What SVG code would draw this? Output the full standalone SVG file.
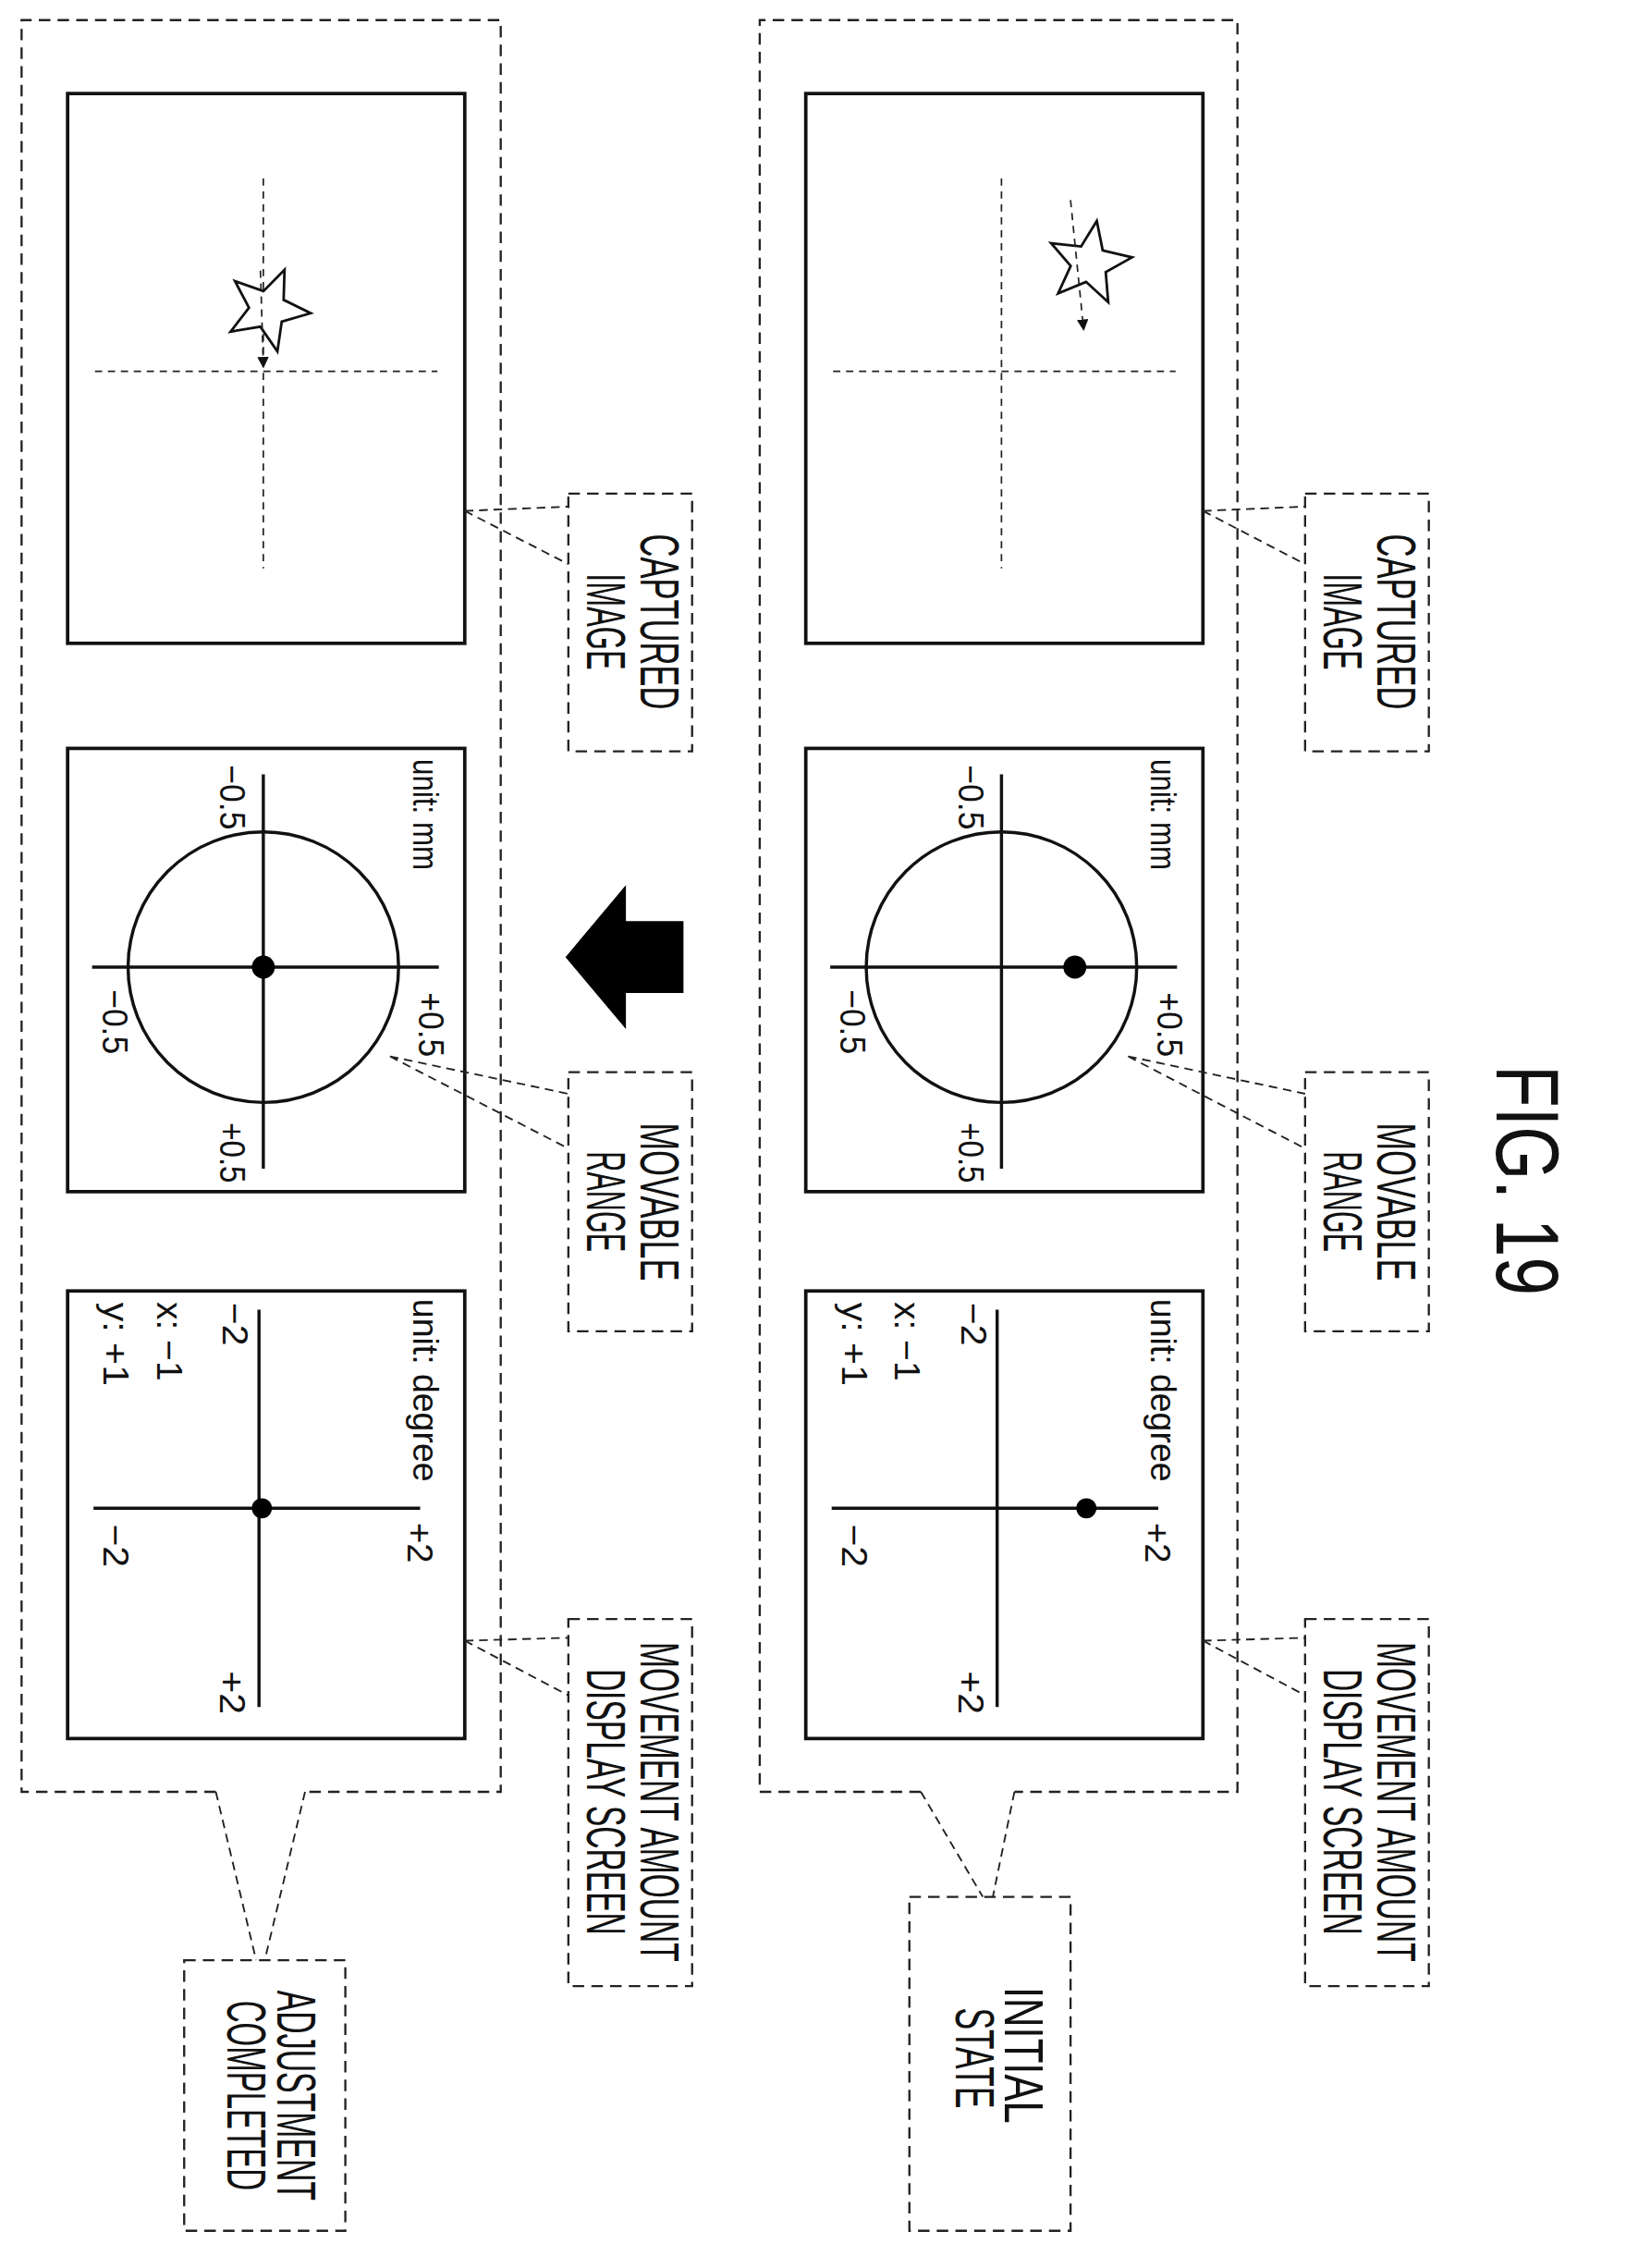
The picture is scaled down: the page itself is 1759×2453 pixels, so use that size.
<svg xmlns="http://www.w3.org/2000/svg" width="1759" height="2453" viewBox="0 0 1759 2453">
<style>
.bg{fill:#fff}
.grp{fill:none;stroke:#222;stroke-width:1.5;stroke-dasharray:8 5}
.frame{fill:#fff;stroke:#111;stroke-width:2.4}
.cross{fill:none;stroke:#222;stroke-width:1.1;stroke-dasharray:5 4}
.axis{fill:none;stroke:#111;stroke-width:2.2}
.lead{fill:none;stroke:#222;stroke-width:1.2;stroke-dasharray:6 4}
.dot{fill:#000}
.star{fill:#fff;stroke:#111;stroke-width:1.8}
text{font-family:"Liberation Sans",Arial,sans-serif;fill:#111}
.lab{font-size:38px}
.sm{font-size:25px}
.fig{font-size:62px}
</style>
<defs>
<polygon id="star" points="30,0 10.5,7.6 9.3,28.5 -4,12.4 -24.3,17.6 -13,0 -24.3,-17.6 -4,-12.4 9.3,-28.5 10.5,-7.6"/>
<marker id="ah" markerWidth="8" markerHeight="8" refX="6" refY="4" orient="auto" markerUnits="userSpaceOnUse"><path d="M0,0 L8,4 L0,8 Z" fill="#111"/></marker>
</defs>
<rect class="bg" width="1759" height="2453"/>
<g transform="scale(1.5566)">
<g id="initial-state">
<path class="grp" d="M640,1245 L528,1245 L528,14 L860,14 L860,1245 L705,1245"/>
<path class="lead" d="M640,1245 L683,1318 M705,1245 L690,1318"/>
<rect class="grp" x="632" y="1318" width="112" height="232"/>
<text class="lab" transform="translate(698,1428) rotate(90)" text-anchor="middle" textLength="95" lengthAdjust="spacingAndGlyphs">INITIAL</text>
<text class="lab" transform="translate(664,1430) rotate(90)" text-anchor="middle" textLength="70" lengthAdjust="spacingAndGlyphs">STATE</text>
</g>
<g id="captured-initial">
<rect class="frame" x="560" y="65" width="276" height="382"/>
<path class="cross" d="M579,258 L817,258 M696,124 L696,395"/>
<use href="#star" class="star" transform="translate(757,183) rotate(-8)"/>
<path class="cross" d="M744,139 L753,228" marker-end="url(#ah)"/>
</g>
<g id="movable-initial">
<rect class="frame" x="560" y="520" width="276" height="308"/>
<circle class="axis" cx="696" cy="672" r="94"/>
<path class="axis" d="M577,672 L818,672 M696,538 L696,812"/>
<circle class="dot" cx="747" cy="672" r="8"/>
<text class="sm" transform="translate(800,566) rotate(90)" text-anchor="middle" textLength="77" lengthAdjust="spacingAndGlyphs">unit: mm</text>
<text class="sm" transform="translate(666,554) rotate(90)" text-anchor="middle" textLength="45" lengthAdjust="spacingAndGlyphs">−0.5</text>
<text class="sm" transform="translate(804,712) rotate(90)" text-anchor="middle" textLength="45" lengthAdjust="spacingAndGlyphs">+0.5</text>
<text class="sm" transform="translate(584,710) rotate(90)" text-anchor="middle" textLength="45" lengthAdjust="spacingAndGlyphs">−0.5</text>
<text class="sm" transform="translate(666,801) rotate(90)" text-anchor="middle" textLength="42" lengthAdjust="spacingAndGlyphs">+0.5</text>
</g>
<g id="movement-initial">
<rect class="frame" x="560" y="897" width="276" height="311"/>
<path class="axis" d="M693,910 L693,1186 M578,1048 L805,1048"/>
<circle class="dot" cx="755" cy="1048" r="7"/>
<text class="sm" transform="translate(800,966) rotate(90)" text-anchor="middle" textLength="127" lengthAdjust="spacingAndGlyphs">unit: degree</text>
<text class="sm" transform="translate(668,920) rotate(90)" text-anchor="middle" textLength="30" lengthAdjust="spacingAndGlyphs">−2</text>
<text class="sm" transform="translate(622,932) rotate(90)" text-anchor="middle" textLength="55" lengthAdjust="spacingAndGlyphs">x: −1</text>
<text class="sm" transform="translate(585,934) rotate(90)" text-anchor="middle" textLength="58" lengthAdjust="spacingAndGlyphs">y: +1</text>
<text class="sm" transform="translate(585,1074) rotate(90)" text-anchor="middle" textLength="30" lengthAdjust="spacingAndGlyphs">−2</text>
<text class="sm" transform="translate(796,1072) rotate(90)" text-anchor="middle" textLength="28" lengthAdjust="spacingAndGlyphs">+2</text>
<text class="sm" transform="translate(666,1176) rotate(90)" text-anchor="middle" textLength="30" lengthAdjust="spacingAndGlyphs">+2</text>
</g>
<g id="label-captured-initial">
<rect class="grp" x="907" y="343" width="86" height="179"/>
<text class="lab" transform="translate(957,432) rotate(90)" text-anchor="middle" textLength="122" lengthAdjust="spacingAndGlyphs">CAPTURED</text>
<text class="lab" transform="translate(920,432) rotate(90)" text-anchor="middle" textLength="67" lengthAdjust="spacingAndGlyphs">IMAGE</text>
</g>
<g id="label-movable-initial">
<rect class="grp" x="907" y="745" width="86" height="180"/>
<text class="lab" transform="translate(957,835) rotate(90)" text-anchor="middle" textLength="110" lengthAdjust="spacingAndGlyphs">MOVABLE</text>
<text class="lab" transform="translate(920,835) rotate(90)" text-anchor="middle" textLength="70" lengthAdjust="spacingAndGlyphs">RANGE</text>
</g>
<g id="label-movement-initial">
<rect class="grp" x="907" y="1125" width="86" height="255"/>
<text class="lab" transform="translate(957,1252) rotate(90)" text-anchor="middle" textLength="222" lengthAdjust="spacingAndGlyphs">MOVEMENT AMOUNT</text>
<text class="lab" transform="translate(920,1252) rotate(90)" text-anchor="middle" textLength="185" lengthAdjust="spacingAndGlyphs">DISPLAY SCREEN</text>
</g>

<g id="adjustment-completed">
<path class="grp" d="M150,1245 L15,1245 L15,14 L348,14 L348,1245 L212,1245"/>
<path class="lead" d="M150,1245 L178,1362 M212,1245 L184,1362"/>
<rect class="grp" x="128" y="1362" width="112" height="188"/>
<text class="lab" transform="translate(193,1456) rotate(90)" text-anchor="middle" textLength="146" lengthAdjust="spacingAndGlyphs">ADJUSTMENT</text>
<text class="lab" transform="translate(158,1456) rotate(90)" text-anchor="middle" textLength="132" lengthAdjust="spacingAndGlyphs">COMPLETED</text>
</g>
<g id="captured-adjusted">
<rect class="frame" x="47" y="65" width="276" height="382"/>
<path class="cross" d="M66,258 L304,258 M183,124 L183,395"/>
<use href="#star" class="star" transform="translate(186,215) rotate(5)"/>
<path class="cross" d="M181,188 L183,254" marker-end="url(#ah)"/>
</g>
<g id="movable-adjusted">
<rect class="frame" x="47" y="520" width="276" height="308"/>
<circle class="axis" cx="183" cy="672" r="94"/>
<path class="axis" d="M64,672 L305,672 M183,538 L183,812"/>
<circle class="dot" cx="183" cy="672" r="8"/>
<text class="sm" transform="translate(287,566) rotate(90)" text-anchor="middle" textLength="77" lengthAdjust="spacingAndGlyphs">unit: mm</text>
<text class="sm" transform="translate(153,554) rotate(90)" text-anchor="middle" textLength="45" lengthAdjust="spacingAndGlyphs">−0.5</text>
<text class="sm" transform="translate(291,712) rotate(90)" text-anchor="middle" textLength="45" lengthAdjust="spacingAndGlyphs">+0.5</text>
<text class="sm" transform="translate(71,710) rotate(90)" text-anchor="middle" textLength="45" lengthAdjust="spacingAndGlyphs">−0.5</text>
<text class="sm" transform="translate(153,801) rotate(90)" text-anchor="middle" textLength="42" lengthAdjust="spacingAndGlyphs">+0.5</text>
</g>
<g id="movement-adjusted">
<rect class="frame" x="47" y="897" width="276" height="311"/>
<path class="axis" d="M180,910 L180,1186 M65,1048 L292,1048"/>
<circle class="dot" cx="182" cy="1048" r="7"/>
<text class="sm" transform="translate(287,966) rotate(90)" text-anchor="middle" textLength="127" lengthAdjust="spacingAndGlyphs">unit: degree</text>
<text class="sm" transform="translate(155,920) rotate(90)" text-anchor="middle" textLength="30" lengthAdjust="spacingAndGlyphs">−2</text>
<text class="sm" transform="translate(109,932) rotate(90)" text-anchor="middle" textLength="55" lengthAdjust="spacingAndGlyphs">x: −1</text>
<text class="sm" transform="translate(72,934) rotate(90)" text-anchor="middle" textLength="58" lengthAdjust="spacingAndGlyphs">y: +1</text>
<text class="sm" transform="translate(72,1074) rotate(90)" text-anchor="middle" textLength="30" lengthAdjust="spacingAndGlyphs">−2</text>
<text class="sm" transform="translate(283,1072) rotate(90)" text-anchor="middle" textLength="28" lengthAdjust="spacingAndGlyphs">+2</text>
<text class="sm" transform="translate(153,1176) rotate(90)" text-anchor="middle" textLength="30" lengthAdjust="spacingAndGlyphs">+2</text>
</g>
<g id="label-captured-adjusted">
<rect class="grp" x="395" y="343" width="86" height="179"/>
<text class="lab" transform="translate(445,432) rotate(90)" text-anchor="middle" textLength="122" lengthAdjust="spacingAndGlyphs">CAPTURED</text>
<text class="lab" transform="translate(408,432) rotate(90)" text-anchor="middle" textLength="67" lengthAdjust="spacingAndGlyphs">IMAGE</text>
</g>
<g id="label-movable-adjusted">
<rect class="grp" x="395" y="745" width="86" height="180"/>
<text class="lab" transform="translate(445,835) rotate(90)" text-anchor="middle" textLength="110" lengthAdjust="spacingAndGlyphs">MOVABLE</text>
<text class="lab" transform="translate(408,835) rotate(90)" text-anchor="middle" textLength="70" lengthAdjust="spacingAndGlyphs">RANGE</text>
</g>
<g id="label-movement-adjusted">
<rect class="grp" x="395" y="1125" width="86" height="255"/>
<text class="lab" transform="translate(445,1252) rotate(90)" text-anchor="middle" textLength="222" lengthAdjust="spacingAndGlyphs">MOVEMENT AMOUNT</text>
<text class="lab" transform="translate(408,1252) rotate(90)" text-anchor="middle" textLength="185" lengthAdjust="spacingAndGlyphs">DISPLAY SCREEN</text>
</g>

<g id="connectors">
<path class="lead" d="M836,355 L907,352 M836,355 L907,392"/>
<path class="lead" d="M784,734 L907,760 M784,734 L907,798"/>
<path class="lead" d="M836,1140 L907,1138 M836,1140 L907,1178"/>
<path class="lead" d="M323,355 L395,352 M323,355 L395,392"/>
<path class="lead" d="M271,734 L395,760 M271,734 L395,798"/>
<path class="lead" d="M323,1140 L395,1138 M323,1140 L395,1178"/>
<polygon id="transition-arrow" points="393,665 435,615 435,640 475,640 475,690 435,690 435,715" fill="#000"/>
</g>
<text class="fig" transform="translate(1040,820) rotate(90)" text-anchor="middle" textLength="160" lengthAdjust="spacingAndGlyphs">FIG. 19</text>
</g>
</svg>
